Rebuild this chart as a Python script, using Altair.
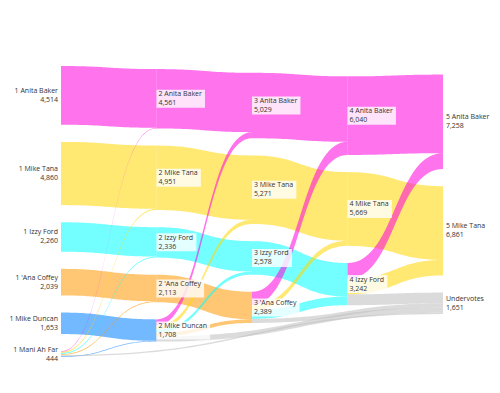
import altair as alt
import numpy as np
import pandas as pd

# ---- data ----
r1_names = ["Anita Baker", "Mike Tana", "Izzy Ford", "'Ana Coffey", "Mike Duncan", "Mani Ah Far"]
r1_votes = [4514, 4860, 2260, 2039, 1653, 444]
r2_names = ["Anita Baker", "Mike Tana", "Izzy Ford", "'Ana Coffey", "Mike Duncan"]
r2_votes = [4561, 4951, 2336, 2113, 1708]
r3_names = ["Anita Baker", "Mike Tana", "Izzy Ford", "'Ana Coffey"]
r3_votes = [5029, 5271, 2578, 2389]
r4_names = ["Anita Baker", "Mike Tana", "Izzy Ford"]
r4_votes = [6040, 5669, 3242]
r5_names = ["Anita Baker", "Mike Tana", "Undervotes"]
r5_votes = [7258, 6861, 1651]

eliminated = ["Mani Ah Far", "Mike Duncan", "'Ana Coffey", "Izzy Ford"]
t1_names = ["Anita Baker", "Mike Tana", "Izzy Ford", "'Ana Coffey", "Mike Duncan", "Undervotes"]
t1_votes = [47, 91, 76, 74, 55, 101]
t2_names = ["Anita Baker", "Mike Tana", "Izzy Ford", "'Ana Coffey", "Undervotes"]
t2_votes = [468, 320, 242, 276, 402]
t3_names = ["Anita Baker", "Mike Tana", "Izzy Ford", "Undervotes"]
t3_votes = [1011, 398, 664, 316]
t4_names = ["Anita Baker", "Mike Tana", "Undervotes"]
t4_votes = [1218, 1192, 832]

colors = {
    "Anita Baker": "#ff00dd",
    "Mike Tana": "#ffd700",
    "Izzy Ford": "#00ffff",
    "'Ana Coffey": "#ff9900",
    "Mike Duncan": "#0080ff",
    "Mani Ah Far": "#999999",
    "Undervotes": "#bdbdbd",
}

rounds = [list(zip(r1_names, r1_votes)), list(zip(r2_names, r2_votes)),
          list(zip(r3_names, r3_votes)), list(zip(r4_names, r4_votes)),
          list(zip(r5_names, r5_votes))]
transfers = [list(zip(t1_names, t1_votes)), list(zip(t2_names, t2_votes)),
             list(zip(t3_names, t3_votes)), list(zip(t4_names, t4_votes))]

# ---- sankey layout (in vote units) ----
GAP = 1320
spans = [sum(v for _, v in col) + GAP * (len(col) - 1) for col in rounds]
maxspan = max(spans)
node_y = {}
for c, col in enumerate(rounds):
    y = (maxspan - spans[c]) / 6.0
    for name, v in col:
        node_y[(c, name)] = (y, y + v)
        y += v + GAP

links = []
for r in range(4):
    for name, v in rounds[r]:
        if name == eliminated[r]:
            for tname, tv in transfers[r]:
                tgt = (4, "Undervotes") if tname == "Undervotes" else (r + 1, tname)
                links.append(((r, name), tgt, tv, tname))
        else:
            links.append(((r, name), (r + 1, name), v, name))

src_y = {}
tgt_y = {}
for node in node_y:
    outs = sorted([i for i, l in enumerate(links) if l[0] == node], key=lambda i: node_y[links[i][1]][0])
    y = node_y[node][0]
    for i in outs:
        src_y[i] = y
        y += links[i][2]
    ins = sorted([i for i, l in enumerate(links) if l[1] == node], key=lambda i: node_y[links[i][0]][0])
    y = node_y[node][0]
    for i in ins:
        tgt_y[i] = y
        y += links[i][2]

order_links = sorted(range(len(links)), key=lambda i: (links[i][3] == "Undervotes", links[i][0][1] != links[i][3]))
t = np.linspace(0, 1, 41)
rows = []
for k, i in enumerate(order_links):
    (sc, sn), (tc, tn), v, cname = links[i]
    xm = (sc + tc) / 2.0
    xs = (1 - t) ** 3 * sc + 3 * (1 - t) ** 2 * t * xm + 3 * (1 - t) * t ** 2 * xm + t ** 3 * tc
    ws = (1 - t) ** 3 + 3 * (1 - t) ** 2 * t
    ys = ws * src_y[i] + (1 - ws) * tgt_y[i]
    for xx, yy in zip(xs, ys):
        rows.append({"link": f"L{k:02d}", "x": xx, "y": yy, "y2": yy + v,
                     "color": colors[cname]})
link_df = pd.DataFrame(rows)

# ---- labels ----
CW = {" ": .26, ",": .25, "'": .22, "A": .633, "B": .648, "C": .631, "D": .729, "F": .556,
      "I": .279, "M": .9, "T": .556, "U": .728, "a": .556, "b": .613, "c": .48, "d": .613,
      "e": .561, "f": .336, "h": .614, "i": .258, "k": .53, "n": .614, "o": .603, "r": .409,
      "t": .352, "u": .614, "y": .5, "z": .47, "v": .5}
FS = 7
def text_w(s):
    return sum(CW.get(ch, .572) for ch in s) * FS

X0, X1 = 53, 435
Y0, Y1 = 58, 349
px_col = (X1 - X0) / 4.0
px_vote = (Y1 - Y0) / maxspan

lab = []
for c, col in enumerate(rounds):
    for name, v in col:
        a, b = node_y[(c, name)]
        l1 = f"{c + 1} {name}" if name != "Undervotes" else "Undervotes"
        l2 = f"{v:,}"
        w = max(text_w(l1), text_w(l2))
        lab.append({"col": c, "cy": (a + b) / 2, "text": l1 + "\n" + l2,
                    "bx2": c + (w + 5) / px_col,
                    "by": (a + b) / 2 - 9 / px_vote, "by2": (a + b) / 2 + 9 / px_vote})
lab_df = pd.DataFrame(lab)

xs_ = alt.Scale(domain=[0, 4], range=[X0, X1], nice=False, zero=False)
ys_ = alt.Scale(domain=[0, maxspan], range=[Y0, Y1], nice=False, zero=False)

areas = alt.Chart(link_df).mark_area(opacity=0.55).encode(
    x=alt.X("x:Q", scale=xs_, axis=None),
    y=alt.Y("y:Q", scale=ys_, axis=None),
    y2="y2:Q",
    color=alt.Color("color:N", scale=None),
    detail="link:N",
)

mid = alt.Chart(lab_df).transform_filter("datum.col > 0 && datum.col < 4")
boxes = mid.mark_rect(color="white", opacity=0.8).encode(
    x=alt.X("col:Q", scale=xs_, axis=None), x2="bx2:Q",
    y=alt.Y("by:Q", scale=ys_, axis=None), y2="by2:Q",
)
tfont = dict(font="Open Sans", fontSize=FS, lineHeight=9, lineBreak="\n", color="#333",
             baseline="middle", dy=-4.5)
mid_text = mid.mark_text(align="left", dx=2, **tfont).encode(
    x=alt.X("col:Q", scale=xs_, axis=None), y=alt.Y("cy:Q", scale=ys_, axis=None), text="text:N")
left_text = alt.Chart(lab_df).transform_filter("datum.col == 0").mark_text(align="right", dx=-3, **tfont).encode(
    x=alt.X("col:Q", scale=xs_, axis=None), y=alt.Y("cy:Q", scale=ys_, axis=None), text="text:N")
right_text = alt.Chart(lab_df).transform_filter("datum.col == 4").mark_text(align="left", dx=3, **tfont).encode(
    x=alt.X("col:Q", scale=xs_, axis=None), y=alt.Y("cy:Q", scale=ys_, axis=None), text="text:N")

chart = alt.layer(areas, boxes, mid_text, left_text, right_text).properties(
    width=484, height=377, autosize="none", padding=0
).configure_view(strokeWidth=0)

chart.save("out.html", embed_options={"renderer": "svg", "actions": False})
